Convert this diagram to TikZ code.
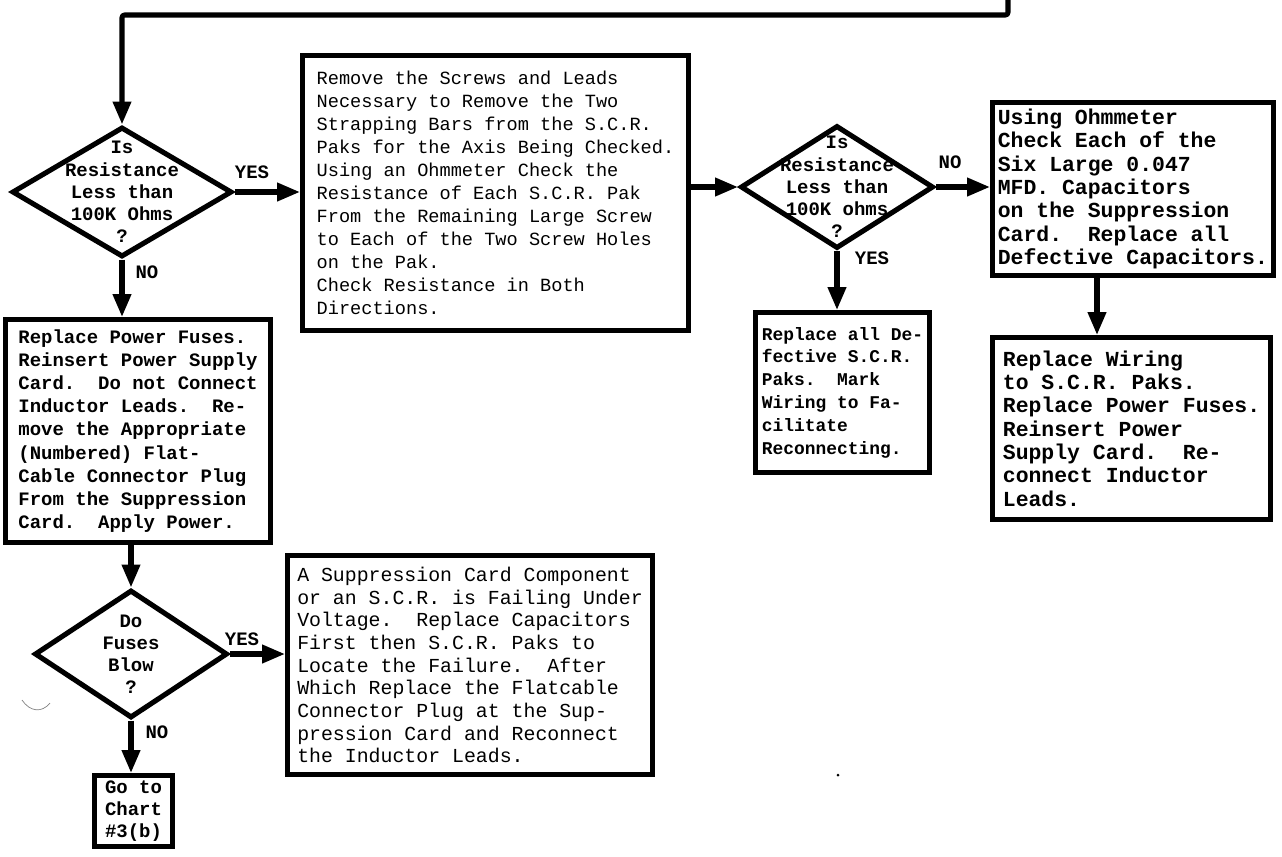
\documentclass[tikz,border=0pt]{standalone}
\usepackage{fontspec}
\usepackage{tikz}
\usetikzlibrary{arrows.meta}
\usetikzlibrary{calc}
\usetikzlibrary{shapes.geometric}
\newfontfamily\chartfont{Liberation Mono}

\tikzset{
	flow/.style={line width=2.9pt, line join=round, rounded corners=1.5pt,
		-{Triangle[length=13pt,width=10pt]}},
	taskbox/.style={draw, line width=2.9pt, anchor=north west, align=left,
		inner sep=3pt, font=\chartfont\bfseries\fontsize{10.8}{13.2}\selectfont},
	decision/.style={draw, diamond, line width=2.9pt, inner sep=0pt},
	qtext/.style={align=center, inner sep=0pt,
		font=\chartfont\bfseries\fontsize{10.8}{12.6}\selectfont},
	answer/.style={inner sep=0pt, font=\chartfont\bfseries\fontsize{10.8}{12}\selectfont}
}

\begin{document}
\begin{tikzpicture}[x=0.02cm, y=-0.02cm]
		
		\useasboundingbox (0,0) rectangle (1282,856);
		
		% decisions
		\node[decision, minimum width=4.4cm, minimum height=2.6cm,
		label={[qtext]center:Is\\Resistance\\Less than\\100K Ohms\\?}] (d1) at (122,192) {};
		\node[decision, minimum width=3.86cm, minimum height=2.46cm,
		label={[qtext]center:Is\\Resistance\\Less than\\100K ohms\\?}] (d2) at (837,187) {};
		\node[decision, minimum width=3.86cm, minimum height=2.56cm,
		label={[qtext]center:Do\\Fuses\\Blow\\?}] (d3) at (131,654) {};
		
		% boxes
		\node[taskbox, minimum width=7.72cm, minimum height=5.5cm,
		font=\chartfont\fontsize{10.6}{13.1}\selectfont] (b2) at (300,53)
		{Remove the Screws and Leads\\Necessary to Remove the Two\\Strapping Bars from the S.C.R.\\Paks for the Axis Being Checked.\\Using an Ohmmeter Check the\\Resistance of Each S.C.R. Pak\\From the Remaining Large Screw\\to Each of the Two Screw Holes\\on the Pak.\\Check Resistance in Both\\Directions.};
		\node[taskbox, minimum width=5.56cm, minimum height=3.46cm,
		font=\chartfont\bfseries\fontsize{12.2}{13.3}\selectfont] (b3) at (990,100)
		{Using Ohmmeter\\Check Each of the\\Six Large 0.047\\MFD. Capacitors\\on the Suppression\\Card.~~Replace all\\Defective Capacitors.};
		\node[taskbox, minimum width=3.48cm, minimum height=3.2cm,
		font=\chartfont\bfseries\fontsize{10.2}{13}\selectfont] (b4) at (753,310)
		{Replace all De-\\fective S.C.R.\\Paks.~~Mark\\Wiring to Fa-\\cilitate\\Reconnecting.};
		\node[taskbox, minimum width=5.56cm, minimum height=3.64cm,
		font=\chartfont\bfseries\fontsize{12.2}{13.3}\selectfont] (b5) at (990,335)
		{Replace Wiring\\to S.C.R. Paks.\\Replace Power Fuses.\\Reinsert Power\\Supply Card.~~Re-\\connect Inductor\\Leads.};
		\node[taskbox, minimum width=5.3cm, minimum height=4.46cm] (b6) at (3,317)
		{Replace Power Fuses.\\Reinsert Power Supply\\Card.~~Do not Connect\\Inductor Leads.~~Re-\\move the Appropriate\\(Numbered) Flat-\\Cable Connector Plug\\From the Suppression\\Card.~~Apply Power.};
		\node[taskbox, minimum width=7.3cm, minimum height=4.38cm,
		font=\chartfont\fontsize{11.3}{12.9}\selectfont] (b7) at (285,553)
		{A Suppression Card Component\\or an S.C.R. is Failing Under\\Voltage.~~Replace Capacitors\\First then S.C.R. Paks to\\Locate the Failure.~~After\\Which Replace the Flatcable\\Connector Plug at the Sup-\\pression Card and Reconnect\\the Inductor Leads.};
		\node[taskbox, minimum width=1.56cm, minimum height=1.4cm,
		font=\chartfont\bfseries\fontsize{10.8}{12.5}\selectfont] (b8) at (92,773)
		{Go to\\Chart\\\#3(b)};
		
		% answers
		\node[answer] (yes1) at (252,172) {YES};
		\node[answer] (no1) at (147,272) {NO};
		\node[answer] (no2) at (950,162) {NO};
		\node[answer] (yes2) at (872,258) {YES};
		\node[answer] (yes3) at (242,639) {YES};
		\node[answer] (no3) at (157,732) {NO};
		
		% connectors
		\coordinate (top in) at (1008,0);
		\draw[flow] (top in) -- ++(0,15) -| (d1.north);
		\draw[flow] (d1.east) -- (d1.east -| b2.west);
		\draw[flow] (b2.east |- d2.west) -- (d2.west);
		\draw[flow] (d2.east) -- (d2.east -| b3.west);
		\draw[flow] (d2.south) -- (d2.south |- b4.north);
		\draw[flow] (1097,0 |- b3.south) -- (1097,0 |- b5.north);
		\draw[flow] (d1.south) -- (d1.south |- b6.north);
		\draw[flow] (b6.south -| d3.north) -- (d3.north);
		\draw[flow] (d3.east) -- (d3.east -| b7.west);
		\draw[flow] (d3.south) -- (d3.south |- b8.north);
		
		% marks on the sheet
		\draw[gray, thin] (22,700) .. controls (30,712) and (42,713) .. (50,703);
		\fill (838,775) circle (1.5);
		
	\end{tikzpicture}
\end{document}
